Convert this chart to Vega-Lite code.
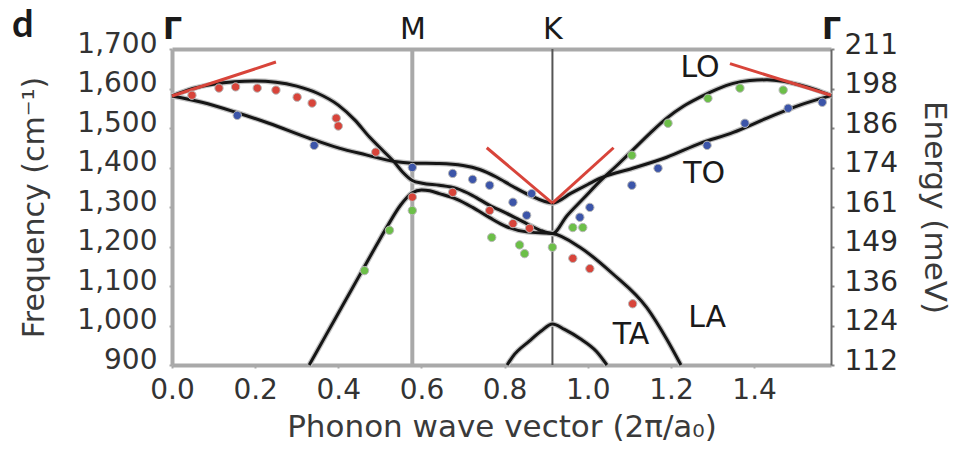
{
  "$schema": "https://vega.github.io/schema/vega-lite/v6.json",
  "width": 659,
  "height": 316,
  "autosize": {"type": "none"},
  "padding": {"left": 172, "top": 49, "right": 126, "bottom": 91},
  "background": "white",
  "config": {
    "view": {"stroke": null},
    "font": "DejaVu Sans",
    "text": {"font": "DejaVu Sans"}
  },
  "title": {
    "text": "d",
    "anchor": "start",
    "frame": "group",
    "font": "Lato",
    "fontSize": 38,
    "fontWeight": "bold",
    "color": "#1a1a1a",
    "dx": -160,
    "dy": 35
  },
  "datasets": {
    "curves": [
      {"branch": "LO", "x": 0, "f": 1581}, {"branch": "LO", "x": 0.05, "f": 1600}, {"branch": "LO", "x": 0.1, "f": 1611}, {"branch": "LO", "x": 0.15, "f": 1617}, {"branch": "LO", "x": 0.2, "f": 1619}, {"branch": "LO", "x": 0.25, "f": 1616}, {"branch": "LO", "x": 0.3, "f": 1606}, {"branch": "LO", "x": 0.35, "f": 1588}, {"branch": "LO", "x": 0.4, "f": 1558}, {"branch": "LO", "x": 0.44, "f": 1520}, {"branch": "LO", "x": 0.475, "f": 1477}, {"branch": "LO", "x": 0.51, "f": 1440}, {"branch": "LO", "x": 0.535, "f": 1413}, {"branch": "LO", "x": 0.555, "f": 1388}, {"branch": "LO", "x": 0.578, "f": 1367}, {"branch": "LO", "x": 0.602, "f": 1360}, {"branch": "LO", "x": 0.643, "f": 1355}, {"branch": "LO", "x": 0.684, "f": 1347}, {"branch": "LO", "x": 0.723, "f": 1329}, {"branch": "LO", "x": 0.764, "f": 1304}, {"branch": "LO", "x": 0.805, "f": 1284}, {"branch": "LO", "x": 0.853, "f": 1258}, {"branch": "LO", "x": 0.886, "f": 1241}, {"branch": "LO", "x": 0.915, "f": 1233}, {"branch": "LO", "x": 0.95, "f": 1278}, {"branch": "LO", "x": 0.99, "f": 1322}, {"branch": "LO", "x": 1.03, "f": 1366}, {"branch": "LO", "x": 1.07, "f": 1405}, {"branch": "LO", "x": 1.108, "f": 1444}, {"branch": "LO", "x": 1.15, "f": 1487}, {"branch": "LO", "x": 1.19, "f": 1525}, {"branch": "LO", "x": 1.23, "f": 1555}, {"branch": "LO", "x": 1.27, "f": 1578}, {"branch": "LO", "x": 1.31, "f": 1598}, {"branch": "LO", "x": 1.35, "f": 1613}, {"branch": "LO", "x": 1.39, "f": 1620}, {"branch": "LO", "x": 1.431, "f": 1622}, {"branch": "LO", "x": 1.47, "f": 1618}, {"branch": "LO", "x": 1.51, "f": 1609}, {"branch": "LO", "x": 1.548, "f": 1597}, {"branch": "LO", "x": 1.585, "f": 1582},
      {"branch": "TO", "x": 0, "f": 1581}, {"branch": "TO", "x": 0.072, "f": 1565}, {"branch": "TO", "x": 0.153, "f": 1540}, {"branch": "TO", "x": 0.233, "f": 1512}, {"branch": "TO", "x": 0.33, "f": 1474}, {"branch": "TO", "x": 0.402, "f": 1449}, {"branch": "TO", "x": 0.467, "f": 1432}, {"branch": "TO", "x": 0.535, "f": 1415}, {"branch": "TO", "x": 0.578, "f": 1411}, {"branch": "TO", "x": 0.643, "f": 1410}, {"branch": "TO", "x": 0.7, "f": 1405}, {"branch": "TO", "x": 0.74, "f": 1395}, {"branch": "TO", "x": 0.78, "f": 1376}, {"branch": "TO", "x": 0.82, "f": 1352}, {"branch": "TO", "x": 0.86, "f": 1330}, {"branch": "TO", "x": 0.915, "f": 1310}, {"branch": "TO", "x": 0.96, "f": 1335}, {"branch": "TO", "x": 1.0, "f": 1357}, {"branch": "TO", "x": 1.03, "f": 1373}, {"branch": "TO", "x": 1.108, "f": 1398}, {"branch": "TO", "x": 1.19, "f": 1426}, {"branch": "TO", "x": 1.27, "f": 1461}, {"branch": "TO", "x": 1.35, "f": 1489}, {"branch": "TO", "x": 1.431, "f": 1525}, {"branch": "TO", "x": 1.51, "f": 1558}, {"branch": "TO", "x": 1.585, "f": 1582},
      {"branch": "LA", "x": 0.33, "f": 900}, {"branch": "LA", "x": 0.37, "f": 975}, {"branch": "LA", "x": 0.41, "f": 1050}, {"branch": "LA", "x": 0.45, "f": 1125}, {"branch": "LA", "x": 0.49, "f": 1200}, {"branch": "LA", "x": 0.52, "f": 1255}, {"branch": "LA", "x": 0.55, "f": 1305}, {"branch": "LA", "x": 0.578, "f": 1336}, {"branch": "LA", "x": 0.6, "f": 1343}, {"branch": "LA", "x": 0.62, "f": 1341}, {"branch": "LA", "x": 0.643, "f": 1334}, {"branch": "LA", "x": 0.684, "f": 1320}, {"branch": "LA", "x": 0.723, "f": 1299}, {"branch": "LA", "x": 0.764, "f": 1273}, {"branch": "LA", "x": 0.805, "f": 1250}, {"branch": "LA", "x": 0.853, "f": 1237}, {"branch": "LA", "x": 0.915, "f": 1233}, {"branch": "LA", "x": 0.981, "f": 1198}, {"branch": "LA", "x": 1.06, "f": 1131}, {"branch": "LA", "x": 1.142, "f": 1045}, {"branch": "LA", "x": 1.19, "f": 965}, {"branch": "LA", "x": 1.224, "f": 900},
      {"branch": "TA", "x": 0.806, "f": 900}, {"branch": "TA", "x": 0.82, "f": 922}, {"branch": "TA", "x": 0.86, "f": 961}, {"branch": "TA", "x": 0.888, "f": 986}, {"branch": "TA", "x": 0.915, "f": 1004}, {"branch": "TA", "x": 0.944, "f": 990}, {"branch": "TA", "x": 0.981, "f": 967}, {"branch": "TA", "x": 1.021, "f": 934}, {"branch": "TA", "x": 1.046, "f": 900}
    ],
    "tangents": [
      {"seg": "G1", "x": 0, "f": 1581}, {"seg": "G1", "x": 0.25, "f": 1667},
      {"seg": "K1", "x": 0.757, "f": 1450}, {"seg": "K1", "x": 0.915, "f": 1310},
      {"seg": "K2", "x": 0.915, "f": 1310}, {"seg": "K2", "x": 1.062, "f": 1450},
      {"seg": "G2", "x": 1.342, "f": 1663}, {"seg": "G2", "x": 1.585, "f": 1583}
    ],
    "points": [
      {"mode": "red", "x": 0.048, "f": 1583}, {"mode": "red", "x": 0.113, "f": 1601}, {"mode": "red", "x": 0.153, "f": 1604}, {"mode": "red", "x": 0.205, "f": 1601}, {"mode": "red", "x": 0.25, "f": 1596}, {"mode": "red", "x": 0.301, "f": 1578}, {"mode": "red", "x": 0.337, "f": 1563}, {"mode": "red", "x": 0.395, "f": 1525}, {"mode": "red", "x": 0.4, "f": 1505}, {"mode": "red", "x": 0.49, "f": 1439}, {"mode": "red", "x": 0.578, "f": 1325}, {"mode": "red", "x": 0.675, "f": 1337}, {"mode": "red", "x": 0.764, "f": 1291}, {"mode": "red", "x": 0.82, "f": 1258}, {"mode": "red", "x": 0.86, "f": 1246}, {"mode": "red", "x": 0.964, "f": 1170}, {"mode": "red", "x": 1.005, "f": 1144}, {"mode": "red", "x": 1.108, "f": 1055},
      {"mode": "blue", "x": 0.157, "f": 1532}, {"mode": "blue", "x": 0.342, "f": 1456}, {"mode": "blue", "x": 0.578, "f": 1400}, {"mode": "blue", "x": 0.675, "f": 1385}, {"mode": "blue", "x": 0.723, "f": 1370}, {"mode": "blue", "x": 0.764, "f": 1355}, {"mode": "blue", "x": 0.82, "f": 1312}, {"mode": "blue", "x": 0.853, "f": 1279}, {"mode": "blue", "x": 0.865, "f": 1334}, {"mode": "blue", "x": 0.981, "f": 1274}, {"mode": "blue", "x": 1.005, "f": 1299}, {"mode": "blue", "x": 1.106, "f": 1355}, {"mode": "blue", "x": 1.169, "f": 1398}, {"mode": "blue", "x": 1.287, "f": 1456}, {"mode": "blue", "x": 1.378, "f": 1512}, {"mode": "blue", "x": 1.482, "f": 1550}, {"mode": "blue", "x": 1.564, "f": 1565},
      {"mode": "green", "x": 0.463, "f": 1139}, {"mode": "green", "x": 0.523, "f": 1241}, {"mode": "green", "x": 0.578, "f": 1291}, {"mode": "green", "x": 0.769, "f": 1223}, {"mode": "green", "x": 0.836, "f": 1204}, {"mode": "green", "x": 0.848, "f": 1182}, {"mode": "green", "x": 0.915, "f": 1198}, {"mode": "green", "x": 0.964, "f": 1248}, {"mode": "green", "x": 0.988, "f": 1248}, {"mode": "green", "x": 1.106, "f": 1431}, {"mode": "green", "x": 1.193, "f": 1512}, {"mode": "green", "x": 1.289, "f": 1575}, {"mode": "green", "x": 1.366, "f": 1601}, {"mode": "green", "x": 1.47, "f": 1596}
    ],
    "symmetry": [
      {"point": "M", "x": 0.578},
      {"point": "K", "x": 0.915}
    ],
    "labels": [
      {"label": "LO", "x": 1.27, "f": 1652},
      {"label": "TO", "x": 1.28, "f": 1383},
      {"label": "LA", "x": 1.287, "f": 1020},
      {"label": "TA", "x": 1.104, "f": 977}
    ]
  },
  "encoding": {
    "x": {"field": "x", "type": "quantitative", "scale": {"domain": [0, 1.585], "nice": false, "zero": false}, "axis": null},
    "y": {"field": "f", "type": "quantitative", "scale": {"domain": [900, 1700], "nice": false, "zero": false}, "axis": null}
  },
  "layer": [
    {
      "data": {"name": "symmetry"},
      "transform": [{"filter": "datum.point == 'M'"}],
      "mark": {"type": "rule", "color": "#a9a9a9", "strokeWidth": 4},
      "encoding": {
        "x": {"field": "x", "type": "quantitative", "scale": {"domain": [0, 1.585], "nice": false, "zero": false},
          "axis": {"orient": "bottom", "values": [0, 0.2, 0.4, 0.6, 0.8, 1.0, 1.2, 1.4], "format": ".1f",
            "domainColor": "#a9a9a9", "domainWidth": 4, "tickColor": "#a9a9a9", "tickSize": 3, "tickWidth": 2,
            "labelFont": "DejaVu Sans", "labelFontSize": 28, "labelColor": "#333333", "labelPadding": 8, "labelFlush": false, "labelOverlap": false,
            "grid": false,
            "title": "Phonon wave vector (2π/a₀)", "titleFont": "DejaVu Sans", "titleFontSize": 31, "titleFontWeight": "normal", "titleColor": "#3a3a3a", "titlePadding": 8}},
        "y": null
      }
    },
    {
      "data": {"name": "symmetry"},
      "transform": [{"filter": "datum.point == 'K'"}],
      "mark": {"type": "rule", "color": "#555555", "strokeWidth": 2},
      "encoding": {"y": null}
    },
    {
      "data": {"name": "curves"},
      "mark": {"type": "line", "color": "#c4c4c4", "strokeWidth": 5.5, "interpolate": "monotone"},
      "encoding": {
        "detail": {"field": "branch"},
        "y": {"field": "f", "type": "quantitative", "scale": {"domain": [900, 1700], "nice": false, "zero": false},
          "axis": {"orient": "left", "values": [900, 1000, 1100, 1200, 1300, 1400, 1500, 1600, 1700], "format": ",d",
            "domainColor": "#a9a9a9", "domainWidth": 4, "tickColor": "#a9a9a9", "tickSize": 3, "tickWidth": 2,
            "labelFont": "DejaVu Sans", "labelFontSize": 28, "labelColor": "#333333", "labelPadding": 12, "labelOffset": -5, "grid": false,
            "title": "Frequency (cm⁻¹)", "titleFont": "DejaVu Sans", "titleFontSize": 30, "titleFontWeight": "normal", "titleColor": "#3a3a3a", "titlePadding": 27}}
      }
    },
    {
      "data": {"name": "curves"},
      "mark": {"type": "line", "color": "#161616", "strokeWidth": 3, "interpolate": "monotone"},
      "encoding": {
        "detail": {"field": "branch"},
        "x": {"field": "x", "type": "quantitative", "scale": {"domain": [0, 1.585], "nice": false, "zero": false},
          "axis": {"orient": "top", "values": [0, 0.578, 0.915, 1.585],
            "labelExpr": "datum.value < 0.1 || datum.value > 1.5 ? 'Γ' : (datum.value < 0.7 ? 'M' : 'K')",
            "domainColor": "#a9a9a9", "domainWidth": 4, "ticks": false, "grid": false,
            "labelFont": "DejaVu Sans", "labelFontSize": 30,
            "labelFontWeight": {"condition": {"test": "datum.value < 0.1 || datum.value > 1.5", "value": "bold"}, "value": "normal"},
            "labelColor": "#1a1a1a", "labelPadding": 5, "labelFlush": false, "labelOverlap": false,
            "title": null}},
        "y": {"field": "f", "type": "quantitative", "scale": {"domain": [900, 1700], "nice": false, "zero": false},
          "axis": {"orient": "right", "values": [900, 1000, 1100, 1200, 1300, 1400, 1500, 1600, 1700],
            "labelExpr": "format(datum.value * 0.12398, '.0f')",
            "domainColor": "#666666", "domainWidth": 2, "tickColor": "#888888", "tickSize": 3, "tickWidth": 2,
            "labelFont": "DejaVu Sans", "labelFontSize": 28, "labelColor": "#2a2a2a", "labelPadding": 10, "labelOffset": -4, "grid": false,
            "title": "Energy (meV)", "titleFont": "DejaVu Sans", "titleFontSize": 31, "titleFontWeight": "normal", "titleColor": "#3a3a3a", "titlePadding": 20}}
      }
    },
    {
      "data": {"name": "tangents"},
      "mark": {"type": "line", "color": "#d8443a", "strokeWidth": 3},
      "encoding": {"detail": {"field": "seg"}}
    },
    {
      "data": {"name": "points"},
      "mark": {"type": "circle", "size": 70, "opacity": 1, "stroke": "#b8b8b8", "strokeWidth": 1},
      "encoding": {
        "color": {"field": "mode", "type": "nominal", "scale": {"domain": ["red", "blue", "green"], "range": ["#d8443a", "#3c55a9", "#6cbf48"]}, "legend": null}
      }
    },
    {
      "data": {"name": "labels"},
      "mark": {"type": "text", "fontSize": 30, "color": "#1a1a1a", "font": "DejaVu Sans"},
      "encoding": {"text": {"field": "label"}}
    }
  ],
  "resolve": {"axis": {"x": "independent", "y": "independent"}}
}
